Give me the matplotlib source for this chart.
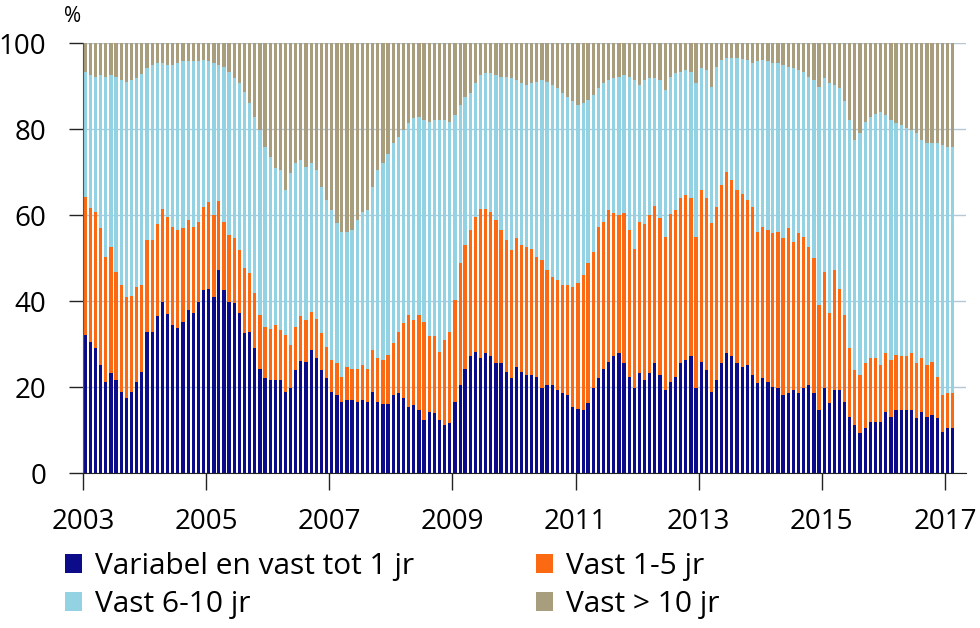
import numpy as np
import pandas as pd
import matplotlib
matplotlib.use("Agg")
import matplotlib.pyplot as plt
import matplotlib.dates as mdates
from matplotlib.patches import Patch

plt.rcParams['font.family'] = ['Open Sans', 'DejaVu Sans']

months = pd.date_range("2003-01-01", "2017-02-01", freq="MS")

variabel = [32.1,30.5,29.0,25.1,21.2,23.2,21.6,18.9,17.4,18.9,21.2,23.6,
            32.7,32.9,36.6,39.8,36.9,34.4,33.8,35.2,37.9,37.1,39.8,42.6,
            42.9,41.0,47.2,42.6,39.8,39.6,37.3,32.5,32.9,29.0,24.3,22.0,
            21.6,21.6,21.6,18.9,19.7,24.0,26.0,25.9,28.6,26.7,24.0,22.0,
            18.9,18.1,16.6,17.0,17.0,16.6,17.0,16.6,18.9,16.6,16.0,16.0,
            18.1,18.5,17.4,15.4,15.8,14.7,12.3,14.3,13.9,12.3,11.2,11.7,
            16.6,20.5,24.3,27.2,28.2,26.7,27.8,27.1,25.5,25.5,23.6,22.0,
            24.7,23.6,22.8,22.8,22.4,19.7,20.5,20.5,19.3,18.5,18.1,15.4,
            15.0,14.7,16.2,19.7,22.0,24.3,25.9,27.1,27.8,25.5,22.4,19.7,
            23.2,21.6,23.2,25.5,22.8,19.3,21.2,22.4,25.5,26.3,27.1,19.7,
            25.7,24.0,18.9,21.6,25.5,27.8,27.1,25.5,24.7,25.1,22.8,20.9,
            22.0,21.2,20.1,19.7,18.1,18.5,19.3,18.5,19.7,20.5,18.5,14.7,
            19.7,16.2,19.3,19.3,16.6,13.1,11.2,9.2,10.4,11.9,11.9,11.9,
            14.3,13.1,14.7,14.7,14.7,14.7,12.7,14.3,13.1,13.5,12.7,9.6,
            10.4,10.4]

vast_1_5 = [32.2,31.1,31.8,31.8,29.1,29.4,25.2,24.8,23.6,22.3,22.1,20.1,
            21.5,21.4,21.2,21.6,22.7,22.9,22.7,21.7,20.9,20.2,18.6,19.3,
            20.2,19.0,16.1,15.8,15.5,15.0,14.6,15.1,13.5,12.8,12.4,12.0,
            12.0,12.8,11.7,13.2,10.1,10.0,10.4,9.7,8.9,9.0,8.5,7.4,
            7.4,7.4,5.8,7.7,7.3,7.7,8.1,7.7,9.7,10.1,10.3,11.4,
            12.1,14.4,17.4,21.3,19.8,22.0,22.9,17.6,18.0,15.9,19.7,21.2,
            23.6,28.3,28.7,29.3,31.4,34.6,33.7,33.7,33.3,31.0,30.6,29.9,
            29.9,29.4,29.8,29.4,27.9,29.8,26.7,25.1,25.5,25.2,25.6,27.9,
            29.1,31.3,32.6,31.8,35.3,34.1,35.3,33.3,32.2,34.9,34.1,32.5,
            35.2,36.2,36.8,36.5,36.4,35.6,39.1,38.8,38.4,38.4,36.8,35.2,
            40.1,39.9,39.2,40.3,41.5,42.3,41.0,40.3,40.3,38.4,39.1,35.2,
            35.3,35.3,35.6,36.4,36.5,38.4,34.5,37.2,35.2,32.1,31.4,24.4,
            27.1,20.9,28.0,23.6,20.1,15.9,12.8,13.6,15.1,14.8,14.8,13.2,
            13.5,13.2,12.7,12.4,12.4,13.1,12.8,12.4,12.0,12.4,9.7,8.5,
            8.1,8.3]

vast_6_10 = [29.0,31.0,31.4,35.7,41.9,40.0,45.4,47.7,50.0,50.2,48.5,49.2,
             39.9,40.6,37.5,33.9,35.3,37.6,38.8,38.8,36.9,38.4,37.3,34.1,
             32.6,35.3,31.6,36.1,38.0,37.2,38.7,41.1,39.6,41.1,43.1,41.9,
             40.0,36.5,37.2,33.7,39.9,38.0,36.4,35.6,34.5,34.8,34.1,34.1,
             34.9,32.6,33.7,31.4,32.2,34.5,35.7,36.9,37.9,43.8,45.7,46.9,
             46.5,45.3,45.0,44.6,46.9,46.0,46.9,49.8,50.2,54.0,51.2,48.8,
             43.1,36.8,34.5,31.8,31.0,31.3,31.5,32.2,33.8,35.7,38.0,39.9,
             36.8,37.6,37.6,38.4,40.7,41.9,43.8,44.6,44.7,44.6,43.8,43.1,
             41.5,40.0,37.9,36.4,32.2,32.2,30.2,31.4,32.2,32.2,35.7,39.2,
             31.8,33.6,31.8,29.8,32.2,34.2,31.9,31.8,29.4,29.0,29.4,35.7,
             28.3,29.8,31.7,32.6,29.0,26.3,28.3,30.6,31.2,32.5,33.4,39.6,
             38.7,39.2,39.6,39.2,40.3,37.6,40.3,38.0,38.4,39.6,41.5,50.7,
             45.0,53.5,42.9,46.6,49.7,53.1,53.4,56.2,56.2,56.2,56.9,58.9,
             55.5,55.8,53.9,53.8,53.1,52.0,53.5,50.7,51.6,50.8,54.3,58.2,
             57.4,57.2]

vast_10plus = [6.7,7.4,7.8,7.4,7.8,7.4,7.8,8.6,9.0,8.6,8.2,7.1,
               5.9,5.1,4.7,4.7,5.1,5.1,4.7,4.3,4.3,4.3,4.3,4.0,
               4.3,4.7,5.1,5.5,6.7,8.2,9.4,11.3,14.0,17.1,20.2,24.1,
               26.4,29.1,29.5,34.2,30.3,28.0,27.2,28.8,28.0,29.5,33.4,36.5,
               38.8,41.9,43.9,43.9,43.5,41.2,39.2,38.8,33.5,29.5,28.0,25.7,
               23.3,21.8,20.2,18.7,17.5,17.3,17.9,18.3,17.9,17.8,17.9,18.3,
               16.7,14.4,12.5,11.7,9.4,7.4,7.0,7.0,7.4,7.8,7.8,8.2,
               8.6,9.4,9.8,9.4,9.0,8.6,9.0,9.8,10.5,11.7,12.5,13.6,
               14.4,14.0,13.3,12.1,10.5,9.4,8.6,8.2,7.8,7.4,7.8,8.6,
               9.8,8.6,8.2,8.2,8.6,10.9,7.8,7.0,6.7,6.3,6.7,9.4,
               5.9,6.3,10.2,5.5,4.0,3.6,3.6,3.6,3.8,4.0,4.7,4.3,
               4.0,4.3,4.7,4.7,5.1,5.5,5.9,6.3,6.7,7.8,8.6,10.2,
               8.2,9.4,9.8,10.5,13.6,17.9,22.6,21.0,18.3,17.1,16.4,16.0,
               16.7,17.9,18.7,19.1,19.8,20.2,21.0,22.6,23.3,23.3,23.3,23.7,
               24.1,24.1]

series_names = ["Variabel en vast tot 1 jr", "Vast 1-5 jr", "Vast 6-10 jr", "Vast > 10 jr"]
colors = ["#0c0c8a", "#fb6a12", "#92d2e2", "#a89d7c"]
yticks = [0, 20, 40, 60, 80, 100]
xtick_years = [2003, 2005, 2007, 2009, 2011, 2013, 2015, 2017]

W, H = 980, 628
FS = 21.5
TFS = 20
fig = plt.figure(figsize=(W / 100, H / 100), dpi=100)
ax = fig.add_axes([83 / W, (H - 473) / H, (966 - 83) / W, (473 - 43) / H])

x = mdates.date2num(months) + 15
bottom = np.zeros(len(months))
for vals, col in zip([variabel, vast_1_5, vast_6_10, vast_10plus], colors):
    v = np.array(vals)
    ax.bar(x, v, width=19, bottom=bottom, color=col, linewidth=0, zorder=2)
    bottom = bottom + v

start = mdates.date2num(pd.Timestamp("2003-01-01"))
ax.set_ylim(0, 100)
ax.set_xlim(start, start + 172.1 * 30.44)
ax.set_yticks(yticks)
ax.set_xticks([mdates.date2num(pd.Timestamp(f"{y}-01-01")) for y in xtick_years])
ax.set_xticklabels([str(y) for y in xtick_years])
ax.yaxis.grid(True, color="#b3c7d6", linewidth=1.0, zorder=0)
ax.set_axisbelow(True)
for s in ["top", "right"]:
    ax.spines[s].set_visible(False)
ax.spines["left"].set_color("#555555")
ax.spines["bottom"].set_color("#222222")
ax.tick_params(axis="y", length=10, width=1, color="#222222", pad=16.5, labelsize=TFS)
ax.tick_params(axis="x", length=12, width=1, color="#222222", pad=13, labelsize=TFS)

fig.text(73 / W, 1 - 16 / H, "%", ha="center", va="center", fontsize=15)

handles = [Patch(facecolor=c, edgecolor="none") for c in colors]
order = [0, 2, 1, 3]
leg = fig.legend([handles[i] for i in order], [series_names[i] for i in order],
                 ncol=2, loc="upper left", bbox_to_anchor=(65 / W, 1 - 552 / H),
                 frameon=False, fontsize=FS, handlelength=0.57, handleheight=0.57,
                 handletextpad=0.43, labelspacing=0.3, columnspacing=4.1,
                 borderaxespad=0, borderpad=0)

fig.savefig("out.png", dpi=100)
